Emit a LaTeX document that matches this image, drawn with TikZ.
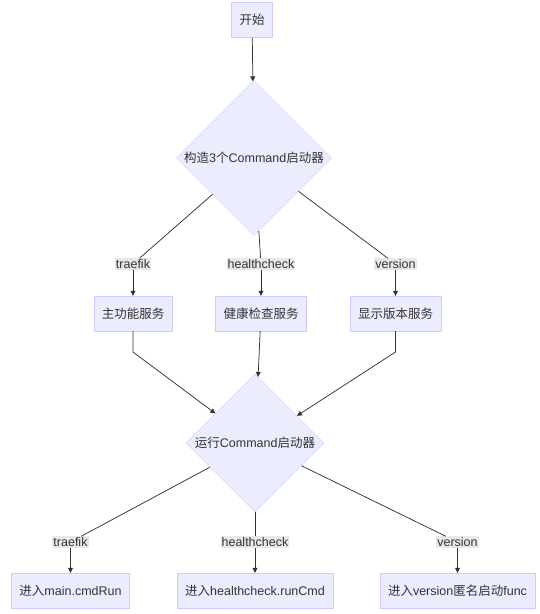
\documentclass[tikz,border=0pt]{standalone}
\usepackage{fontspec}
\setmainfont{Liberation Sans}
\newfontfamily\zhfont{Noto Sans CJK SC}
\newcommand{\zh}[1]{{\zhfont #1}}
\usetikzlibrary{shapes.geometric, arrows.meta}
\definecolor{nodefill}{HTML}{ECECFF}
\definecolor{nodeline}{HTML}{CCCCFF}
\definecolor{edgecol}{HTML}{333333}
\definecolor{labelbg}{HTML}{E8E8E8}

\begin{document}
\begin{tikzpicture}[x=1pt, y=-1pt,
    every node/.style={font=\fontsize{12.5}{15}\selectfont, text=edgecol},
    box/.style={draw=nodeline, fill=nodefill, rectangle, minimum height=35pt, inner xsep=8pt},
    choice/.style={draw=nodeline, fill=nodefill, diamond, aspect=1, inner sep=0pt},
    elabel/.style={fill=labelbg, inner sep=1pt},
    link/.style={draw=edgecol, line width=0.75pt},
    arr/.style={link, -{Triangle[length=5pt, width=5pt]}}]
    \useasboundingbox (0,0) rectangle (540,614);

    % Start and first choice
    \node[box] (start) at (252, 20) {\zh{开始}};
    \node[choice, minimum size=155pt] (build) at (254, 158) {\zh{构造}3\zh{个}Command\zh{启动器}};
    \draw[arr] (start) -- (build);

    % Services
    \foreach \i/\x/\cmd/\txt in {1/133/traefik/主功能服务, 2/261/healthcheck/健康检查服务, 3/395.5/version/显示版本服务} {
        \node[elabel] (sl\i) at (\x, 264) {\cmd};
        \node[box] (svc\i) at (\x, 313.5) {\zh{\txt}};
        \draw[link] (build) -- (sl\i);
        \draw[arr] (sl\i) -- (svc\i);
    }

    % Run choice
    \node[choice, minimum size=138pt] (run) at (255, 443) {\zh{运行}Command\zh{启动器}};
    \coordinate (k1) at (133, 352);
    \coordinate (k3) at (395.5, 352);
    \draw[arr] (svc1) -- (k1) -- (run);
    \draw[arr] (svc2) -- (run);
    \draw[arr] (svc3) -- (k3) -- (run);

    % Entry points
    \foreach \i/\x/\cmd/\txt in {1/70.5/traefik/{\zh{进入}main.cmdRun}, 2/255/healthcheck/{\zh{进入}healthcheck.runCmd}, 3/457.5/version/{\zh{进入}version\zh{匿名启动}func}} {
        \node[elabel] (el\i) at (\x, 542) {\cmd};
        \node[box] (ent\i) at (\x, 590.5) {\txt};
        \draw[link] (run) -- (el\i);
        \draw[arr] (el\i) -- (ent\i);
    }
\end{tikzpicture}
\end{document}
